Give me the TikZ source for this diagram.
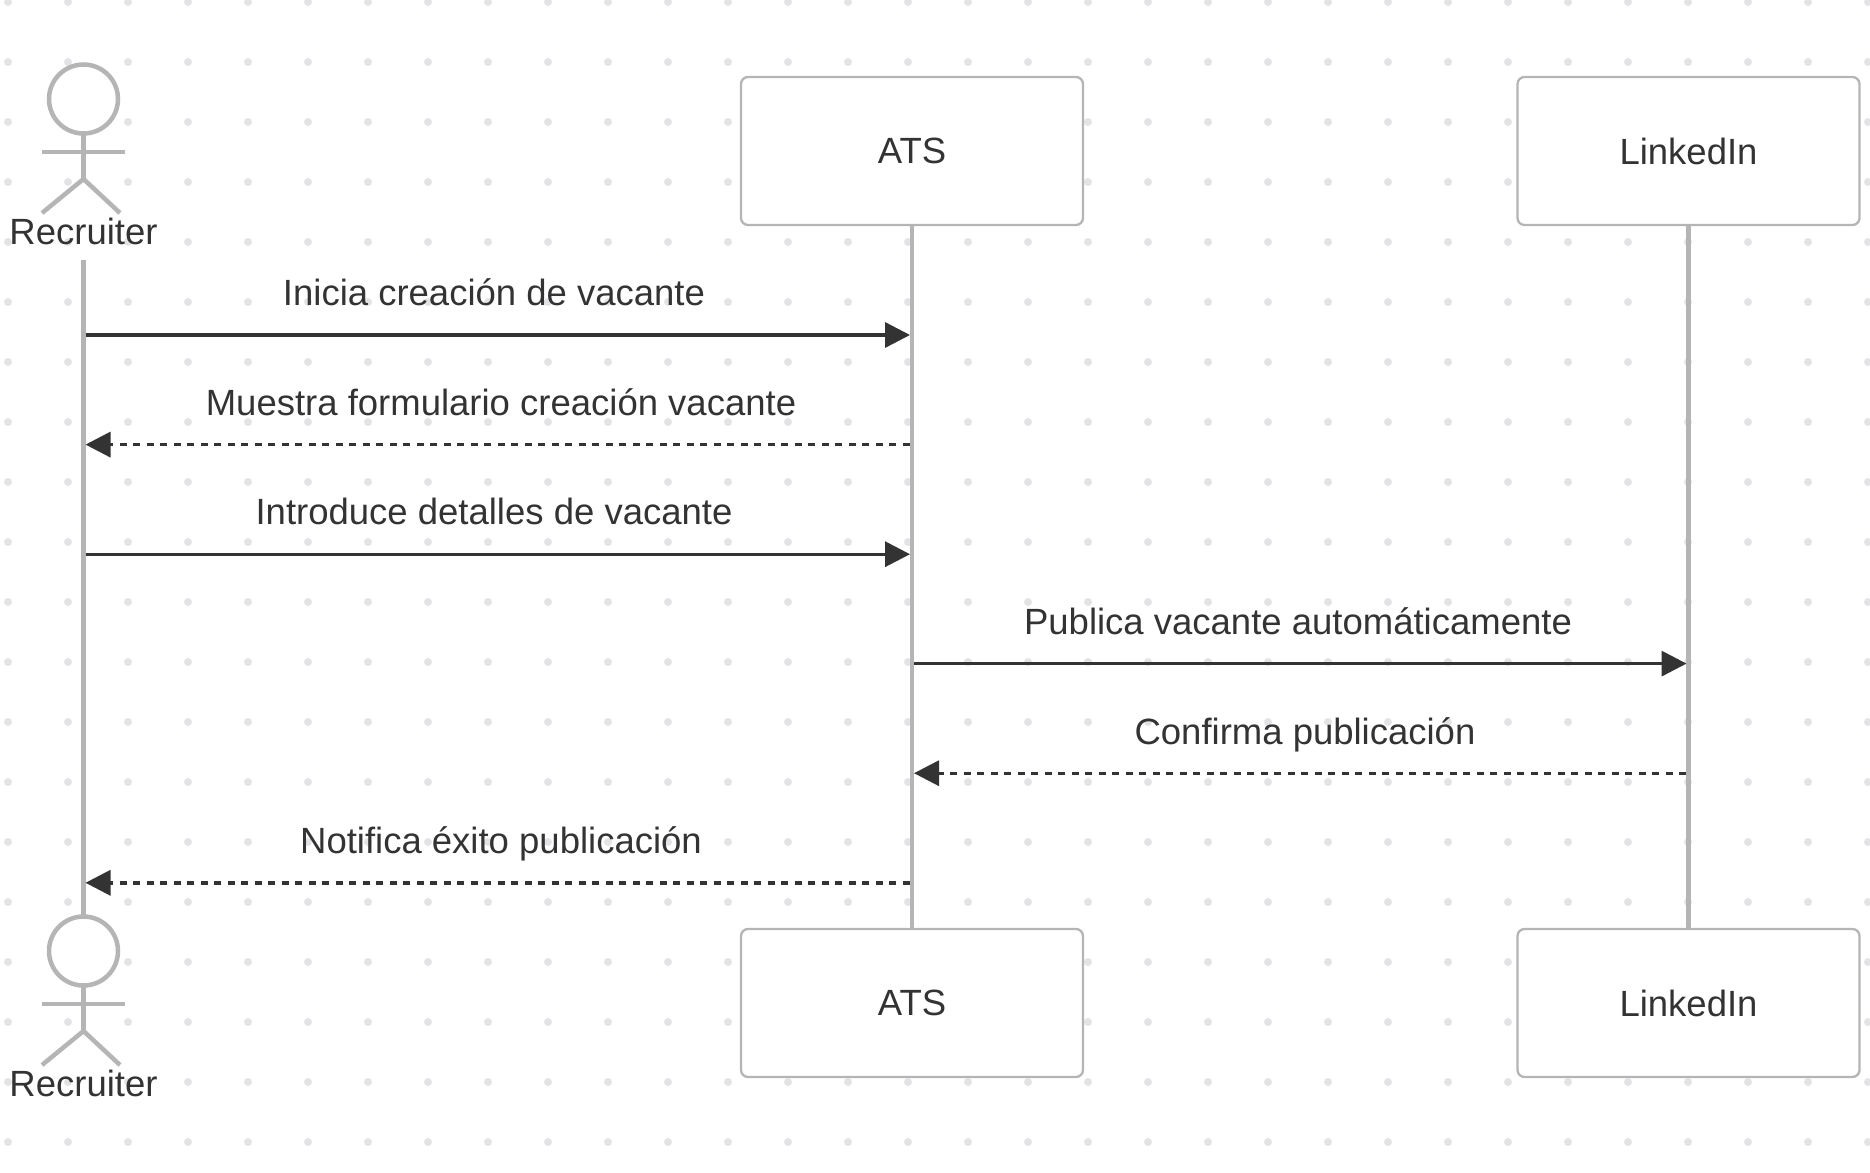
\documentclass[tikz,border=0pt]{standalone}
\usepackage{fontspec}
\setmainfont{Liberation Sans}
\usetikzlibrary{arrows.meta}
\definecolor{lifegray}{HTML}{B5B5B5}
\definecolor{dotgray}{HTML}{E3E3E6}
\definecolor{inkdark}{HTML}{333333}

\begin{document}
\begin{tikzpicture}[
  x=1pt, y=-1pt,
  txt/.style={font=\fontsize{36.5}{40}\selectfont, text=inkdark, inner sep=0pt, outer sep=0pt},
  msglabel/.style={txt, anchor=base},
  sysbox/.style={txt, draw=lifegray, fill=white, line width=2.3pt, rounded corners=7pt,
    minimum width=342pt, minimum height=148pt},
  lifeline/.style={draw=lifegray, line width=4.5pt},
  stick/.style={draw=lifegray, line width=4.5pt},
  msg/.style={draw=inkdark, line width=3.4pt, -{Triangle[length=25pt, width=25pt]}, color=inkdark},
  reply/.style={msg, dash pattern=on 6.75pt off 6.75pt},
]

\useasboundingbox (0,0) rectangle (1870,1172);
\clip (0,0) rectangle (1870,1172);

% Background dots
\foreach \i in {0,...,31}
  \foreach \j in {0,...,19}
    \fill[dotgray] (8+60*\i,2+60*\j) circle (4pt);

% =============================================
% Lifelines ends and boxes
% =============================================

% Top boxes
\node[sysbox] (atstop) at (912,151) {ATS};
\node[sysbox] (lintop) at (1688.5,151) {LinkedIn};

% Bottom boxes
\node[sysbox] (atsbot) at (912,1003) {ATS};
\node[sysbox] (linbot) at (1688.5,1003) {LinkedIn};

% Top actor
\node[circle, stick, fill=white, minimum size=69pt, inner sep=0pt, outer sep=0pt] (rechead) at (83.5,99) {};
\draw[stick] (rechead.south) -- (83.5,179);
\draw[stick] (42,152) -- (125,152);
\draw[stick] (42,213) -- (83.5,179) -- (120,213);
\node[msglabel] (reclabel) at (83.5,244) {Recruiter};

% Bottom actor
\node[circle, stick, fill=white, minimum size=69pt, inner sep=0pt, outer sep=0pt] (recheadb) at (83.5,951) {};
\draw[stick] (recheadb.south) -- (83.5,1031);
\draw[stick] (42,1004) -- (125,1004);
\draw[stick] (42,1065) -- (83.5,1031) -- (120,1065);
\node[msglabel] (reclabelb) at (83.5,1096) {Recruiter};

% Lifelines
\coordinate (recstart) at (83.5,260);
\draw[lifeline] (recstart) -- (recheadb.north);
\draw[lifeline] (atstop.south) -- (atsbot.north);
\draw[lifeline] (lintop.south) -- (linbot.north);

% =============================================
% Messages
% =============================================

\coordinate (rec1) at (85.5,335);
\coordinate (ats1) at (910,335);
\coordinate (rec2) at (85.5,444.6);
\coordinate (ats2) at (909.5,444.6);
\coordinate (rec3) at (85.5,554.2);
\coordinate (ats3) at (910,554.2);
\coordinate (ats4) at (914,663.6);
\coordinate (lin4) at (1686.5,663.6);
\coordinate (ats5) at (914,773.2);
\coordinate (lin5) at (1686,773.2);
\coordinate (rec6) at (85.5,882.8);
\coordinate (ats6) at (909.5,882.8);

\draw[msg] (rec1) -- (ats1);
\draw[reply] (ats2) -- (rec2);
\draw[msg] (rec3) -- (ats3);
\draw[msg] (ats4) -- (lin4);
\draw[reply] (lin5) -- (ats5);
\draw[reply] (ats6) -- (rec6);

% Message labels
\node[msglabel] (msga) at (494,305.4) {Inicia creación de vacante};
\node[msglabel] (msgb) at (501,415.2) {Muestra formulario creación vacante};
\node[msglabel] (msgc) at (494,524.8) {Introduce detalles de vacante};
\node[msglabel] (msgd) at (1298,634.4) {Publica vacante automáticamente};
\node[msglabel] (msge) at (1305,744) {Confirma publicación};
\node[msglabel] (msgf) at (501,853.6) {Notifica éxito publicación};

\end{tikzpicture}
\end{document}
